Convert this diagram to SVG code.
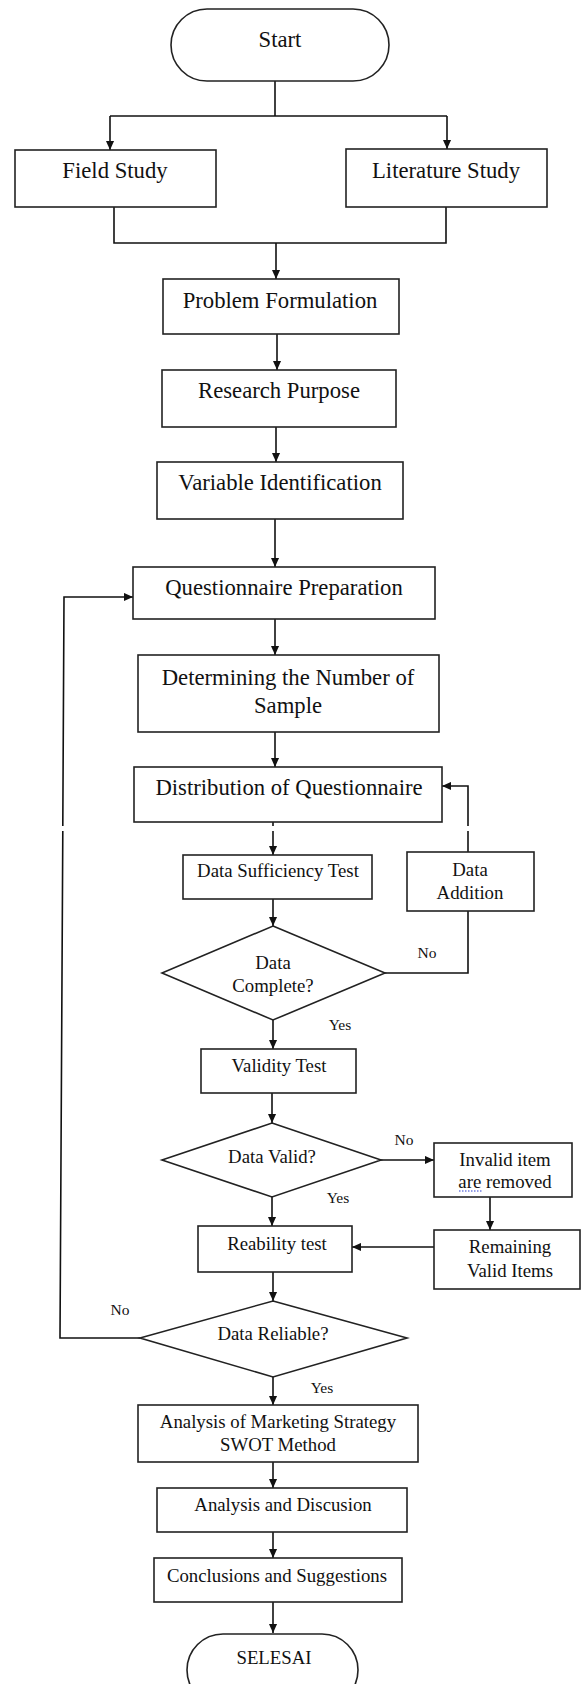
<svg xmlns="http://www.w3.org/2000/svg" width="582" height="1684" viewBox="0 0 582 1684">
<style>
.n rect,.n polygon{fill:#fff;stroke:#222;stroke-width:1.6}
.t{font-family:"Liberation Serif","Times New Roman",serif;font-size:22.7px;fill:#111;text-anchor:middle}
.s{font-family:"Liberation Serif","Times New Roman",serif;font-size:18.8px;fill:#111;text-anchor:middle}
.l{font-family:"Liberation Serif","Times New Roman",serif;font-size:15.5px;fill:#111;text-anchor:middle}
#edges path{fill:none;stroke:#111;stroke-width:1.6}
#edges path.a{marker-end:url(#arr)}
</style>
<defs>
<marker id="arr" viewBox="0 0 10 10" refX="10" refY="5" markerWidth="10" markerHeight="9" orient="auto" markerUnits="userSpaceOnUse">
<path d="M0,0.5 L10,5 L0,9.5 z" fill="#111"/>
</marker>
</defs>
<rect width="582" height="1684" fill="#fff"/>
<g id="edges">
<path d="M275,81 V116"/>
<path d="M110,116 H447"/>
<path class="a" d="M110,116 V150"/>
<path class="a" d="M447,116 V149"/>
<path d="M114,207 V243 H446 V207"/>
<path class="a" d="M276,243 V279"/>
<path class="a" d="M277,334 V370"/>
<path class="a" d="M276,427 V462"/>
<path class="a" d="M275,519 V567"/>
<path class="a" d="M275,619 V655"/>
<path class="a" d="M275,732 V767"/>
<path d="M273,822 V826"/>
<path class="a" d="M273,831 V855"/>
<path class="a" d="M273,899 V926"/>
<path d="M385,973 H468 V911"/>
<path d="M468,852 V831"/>
<path class="a" d="M468,826 V786 H442"/>
<path class="a" d="M273,1020 V1049"/>
<path class="a" d="M272,1093 V1123"/>
<path class="a" d="M381,1160 H434"/>
<path class="a" d="M490,1197 V1230"/>
<path class="a" d="M434,1247 H352"/>
<path class="a" d="M272,1197 V1226"/>
<path class="a" d="M273,1272 V1301"/>
<path d="M140,1338 H60 L62.8,831"/>
<path class="a" d="M62.8,826 L64,597 H133"/>
<path class="a" d="M273,1377 V1405"/>
<path class="a" d="M273,1462 V1488"/>
<path class="a" d="M273,1532 V1558"/>
<path class="a" d="M273,1602 V1633"/>
</g>
<g id="labels">
<text class="l" x="427" y="958">No</text>
<text class="l" x="340" y="1030">Yes</text>
<text class="l" x="404" y="1145">No</text>
<text class="l" x="338" y="1203">Yes</text>
<text class="l" x="120" y="1315">No</text>
<text class="l" x="322" y="1393">Yes</text>
</g>
<g id="start" class="n"><rect x="171" y="9" width="218" height="72" rx="36"/><text class="t" x="280" y="47">Start</text></g>
<g id="field" class="n"><rect x="15" y="150" width="201" height="57"/><text class="t" x="115" y="178">Field Study</text></g>
<g id="literature" class="n"><rect x="346" y="149" width="201" height="58"/><text class="t" x="446" y="178">Literature Study</text></g>
<g id="problem" class="n"><rect x="163" y="279" width="236" height="55"/><text class="t" x="280" y="308">Problem Formulation</text></g>
<g id="purpose" class="n"><rect x="162" y="370" width="234" height="57"/><text class="t" x="279" y="398">Research Purpose</text></g>
<g id="variable" class="n"><rect x="157" y="462" width="246" height="57"/><text class="t" x="280" y="490">Variable Identification</text></g>
<g id="questionnaire" class="n"><rect x="133" y="567" width="302" height="52"/><text class="t" x="284" y="595">Questionnaire Preparation</text></g>
<g id="sample" class="n"><rect x="138" y="655" width="301" height="77"/><text class="t" x="288" y="685">Determining the Number of</text><text class="t" x="288" y="713">Sample</text></g>
<g id="distribution" class="n"><rect x="134" y="767" width="308" height="55"/><text class="t" x="289" y="795">Distribution of Questionnaire</text></g>
<g id="sufficiency" class="n"><rect x="183" y="855" width="189" height="44"/><text class="s" x="278" y="877">Data Sufficiency Test</text></g>
<g id="addition" class="n"><rect x="407" y="852" width="127" height="59"/><text class="s" x="470" y="876">Data</text><text class="s" x="470" y="899">Addition</text></g>
<g id="complete" class="n"><polygon points="273,926 385,973 273,1020 162,973"/><text class="s" x="273" y="969">Data</text><text class="s" x="273" y="992">Complete?</text></g>
<g id="validity" class="n"><rect x="201" y="1049" width="155" height="44"/><text class="s" x="279" y="1072">Validity Test</text></g>
<g id="valid" class="n"><polygon points="272,1123 381,1160 272,1197 162,1160"/><text class="s" x="272" y="1163">Data Valid?</text></g>
<g id="invalid" class="n"><rect x="434" y="1143" width="138" height="54"/><text class="s" x="505" y="1166">Invalid item</text><text class="s" x="505" y="1188">are removed</text><path d="M459,1191 H483" stroke="#2a3fd0" stroke-width="1.2" stroke-dasharray="1.5,1.5" fill="none"/></g>
<g id="remaining" class="n"><rect x="434" y="1230" width="146" height="59"/><text class="s" x="510" y="1253">Remaining</text><text class="s" x="510" y="1277">Valid Items</text></g>
<g id="reability" class="n"><rect x="198" y="1226" width="154" height="46"/><text class="s" x="277" y="1250">Reability test</text></g>
<g id="reliable" class="n"><polygon points="273,1301 407,1338 273,1377 140,1338"/><text class="s" x="273" y="1340">Data Reliable?</text></g>
<g id="swot" class="n"><rect x="138" y="1405" width="280" height="57"/><text class="s" x="278" y="1428">Analysis of Marketing Strategy</text><text class="s" x="278" y="1451">SWOT Method</text></g>
<g id="discussion" class="n"><rect x="157" y="1488" width="250" height="44"/><text class="s" x="283" y="1511">Analysis and Discusion</text></g>
<g id="conclusions" class="n"><rect x="154" y="1558" width="248" height="44"/><text class="s" x="277" y="1582">Conclusions and Suggestions</text></g>
<g id="selesai" class="n"><rect x="187" y="1634" width="171" height="72" rx="36"/><text class="s" x="274" y="1664">SELESAI</text></g>
</svg>
